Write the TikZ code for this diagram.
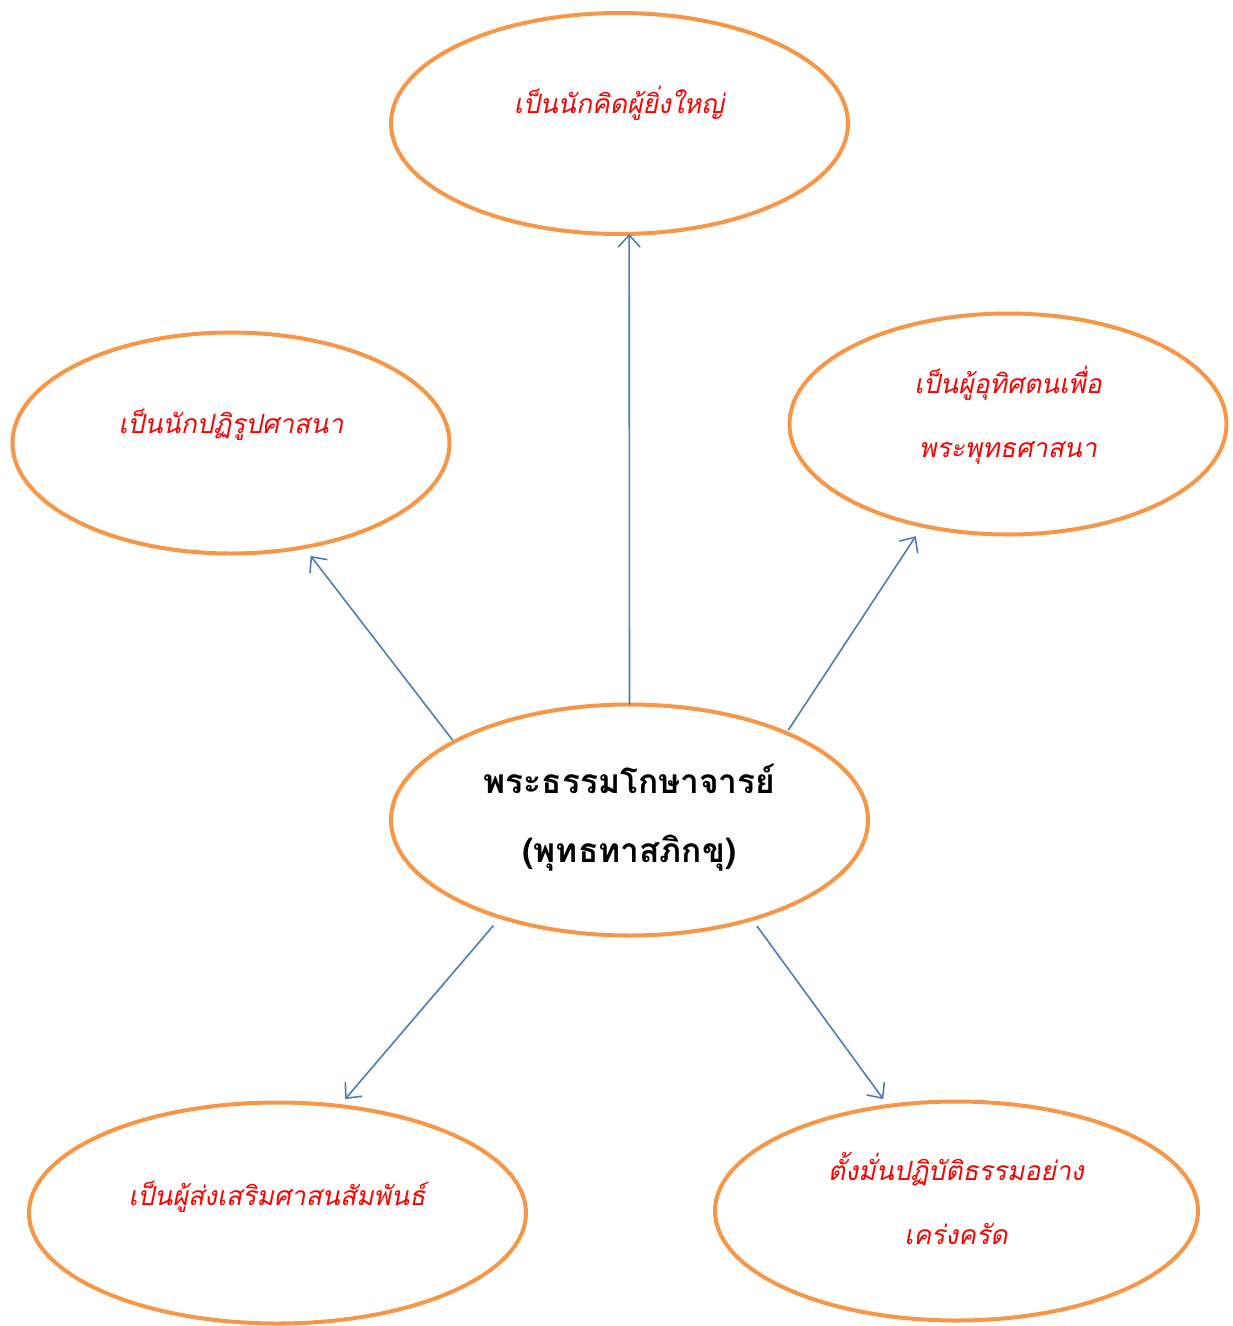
\documentclass[tikz,border=0pt]{standalone}
\usepackage{fontspec}
\usetikzlibrary{shapes.geometric,arrows.meta}
\newfontfamily\thaifont[Script=Thai]{Loma}
\newfontfamily\thaiitfont[Script=Thai,FakeSlant=0.2]{Loma}
\definecolor{ringorange}{HTML}{F79646}
\definecolor{linkblue}{HTML}{4A7EBB}
\definecolor{labelred}{HTML}{FF0000}
\tikzset{
  ring/.style={ellipse,draw=ringorange,line width=4pt,inner sep=0pt,outer sep=0pt},
  link/.style={draw=linkblue,line width=1.6pt,-{Straight Barb[length=12pt,width=22pt,line width=1.6pt]}},
  redlabel/.style={text=labelred,font=\thaiitfont\fontsize{26.5}{64}\selectfont,align=center,inner sep=0pt},
  mainlabel/.style={text=black,font=\thaifont\bfseries\fontsize{33.5}{69}\selectfont,align=center,inner sep=0pt}
}
\begin{document}
\begin{tikzpicture}[x=1pt,y=-1pt]
\useasboundingbox (0,0) rectangle (1233,1326);
\node[ring,minimum width=457pt,minimum height=221pt] (top) at (619.5,123.5) {};
\node[ring,minimum width=437pt,minimum height=221pt] (left) at (231,443) {};
\node[ring,minimum width=437pt,minimum height=221pt] (right) at (1008,424) {};
\node[ring,minimum width=477pt,minimum height=231pt] (center) at (629.5,820) {};
\node[ring,minimum width=497pt,minimum height=221pt] (bl) at (277.5,1213) {};
\node[ring,minimum width=483pt,minimum height=219pt] (br) at (956.5,1211) {};

\node[redlabel,anchor=base] (ttop) at (619,113) {เป็นนักคิดผู้ยิ่งใหญ่};
\node[redlabel,anchor=base] (tleft) at (231,433) {เป็นนักปฏิรูปศาสนา};
\node[redlabel] (tright) at (1008,415) {เป็นผู้อุทิศตนเพื่อ\\พระพุทธศาสนา};
\node[mainlabel] (tcenter) at (629.5,818) {พระธรรมโกษาจารย์\\(พุทธทาสภิกขุ)};
\node[redlabel,anchor=base] (tbl) at (277,1205) {เป็นผู้ส่งเสริมศาสนสัมพันธ์};
\node[redlabel] (tbr) at (956,1199) {ตั้งมั่นปฏิบัติธรรมอย่าง\\เคร่งครัด};

\draw[link] (center.north) -- (top.275.4);
\draw[link,shorten <=2pt,shorten >=11pt] (center.156.4) -- (left.305.5);
\draw[link,shorten <=3.5pt,shorten >=12.5pt] (center.29.1) -- (right.230.4);
\draw[link,shorten <=11pt,shorten >=9pt] (center.217.5) -- (bl.60.6);
\draw[link,shorten <=8.5pt,shorten >=8.5pt] (center.321) -- (br.123.1);
\end{tikzpicture}
\end{document}
